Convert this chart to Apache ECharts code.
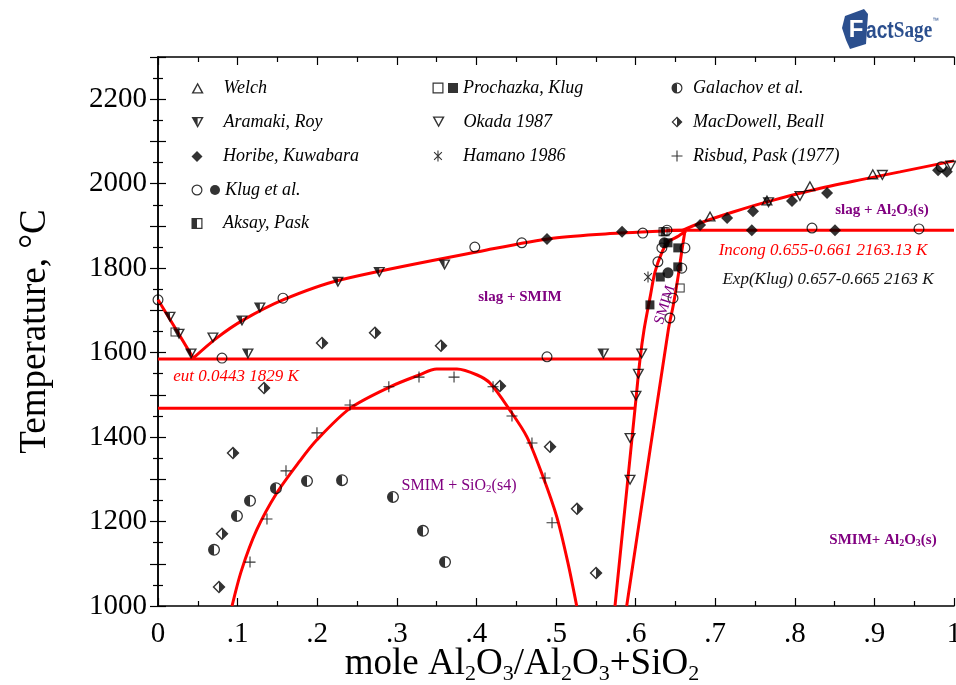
<!DOCTYPE html>
<html><head><meta charset="utf-8">
<script src="https://cdn.jsdelivr.net/npm/echarts@6/dist/echarts.min.js"></script>
<style>html,body{margin:0;padding:0;background:#fff}#c{width:956px;height:685px}</style>
</head><body><div id="c"></div>
<script>
// ---------- tick labels ----------
const xTickLabels = ['0', '.1', '.2', '.3', '.4', '.5', '.6', '.7', '.8', '.9', '1'];
const yTickLabels = ['1000', '1200', '1400', '1600', '1800', '2000', '2200'];

// ---------- calculated phase boundaries [x, T(°C)] ----------
const liqSiO2 = [[0, 1725], [0.0214, 1659], [0.0443, 1587]];
const liqSMIM = [[0.0443, 1587], [0.074, 1635], [0.1068, 1677], [0.157, 1725], [0.2286, 1772], [0.413, 1843], [0.496, 1871], [0.58, 1883], [0.634, 1888], [0.66, 1890]];
const eutLine = [[0, 1585], [0.6055, 1585]];
const lowLine = [[0, 1468], [0.5992, 1468]];
const dome = [[0.093, 1000], [0.105, 1085], [0.124, 1180], [0.149, 1267], [0.178, 1343], [0.1994, 1393], [0.2412, 1468], [0.2915, 1519], [0.328, 1547], [0.35, 1561], [0.3756, 1561], [0.401, 1547], [0.417, 1528], [0.442, 1464], [0.4636, 1400], [0.4837, 1306], [0.501, 1211], [0.515, 1102], [0.526, 1000]];
const smimLeft = [[0.5741, 1000], [0.5992, 1466], [0.6055, 1583], [0.6106, 1654], [0.618, 1729], [0.6244, 1791], [0.6332, 1838], [0.6407, 1862], [0.652, 1874], [0.6633, 1888]];
const smimRight = [[0.5888, 1000], [0.6411, 1654], [0.6474, 1713], [0.6537, 1784], [0.6579, 1839], [0.662, 1888]];
const incongLine = [[0.64, 1890], [1, 1890]];
const liqAl2O3 = [[0.6595, 1890], [0.681, 1907], [0.7224, 1933], [0.765, 1957], [0.823, 1985], [0.882, 2009], [0.932, 2028], [1, 2054]];

// ---------- experimental points [x, T(°C)] ----------
const welch = [[0.6935, 1923], [0.765, 1961], [0.819, 1995], [0.898, 2023]];
const prochazkaOpen = [[0.0214, 1649], [0.656, 1753], [0.6345, 1886]];
const prochazkaFilled = [[0.618, 1713], [0.653, 1803], [0.6407, 1860], [0.653, 1848], [0.631, 1779]];
const galachov = [[0.0704, 1133], [0.0992, 1213], [0.1156, 1249], [0.1482, 1279], [0.1872, 1296], [0.2312, 1298], [0.2952, 1258], [0.3329, 1178], [0.3606, 1104]];
const aramaki = [[0.0151, 1684], [0.0264, 1644], [0.0415, 1597], [0.1055, 1675], [0.128, 1706], [0.113, 1597], [0.226, 1767], [0.278, 1790], [0.36, 1808], [0.5595, 1597], [0.767, 1955]];
const okada = [[0.069, 1635], [0.6076, 1597], [0.6034, 1549], [0.6005, 1497], [0.593, 1397], [0.593, 1298], [0.8065, 1970], [0.91, 2020], [0.996, 2042]];
const macdowell = [[0.0766, 1045], [0.0804, 1171], [0.0942, 1362], [0.1332, 1516], [0.206, 1623], [0.2726, 1647], [0.3555, 1616], [0.4296, 1521], [0.4925, 1377], [0.5264, 1230], [0.5503, 1078]];
const horibe = [[0.4887, 1869], [0.583, 1886], [0.681, 1902], [0.715, 1919], [0.7475, 1935], [0.7965, 1959], [0.8405, 1978], [0.746, 1890], [0.8505, 1890], [0.98, 2032], [0.991, 2028]];
const hamano = [[0.6156, 1779]];
const risbud = [[0.1156, 1104], [0.1369, 1206], [0.1608, 1320], [0.1997, 1410], [0.2412, 1476], [0.29, 1519], [0.3279, 1542], [0.3719, 1542], [0.4209, 1519], [0.4447, 1450], [0.4698, 1386], [0.4862, 1303], [0.495, 1197]];
const klugOpen = [[0, 1725], [0.0804, 1587], [0.157, 1729], [0.398, 1850], [0.457, 1860], [0.4887, 1590], [0.609, 1883], [0.6395, 1890], [0.8216, 1895], [0.956, 1893], [0.984, 2040], [0.633, 1848], [0.662, 1848], [0.628, 1815], [0.658, 1800], [0.647, 1729], [0.643, 1682]];
const klugFilled = [[0.6407, 1789], [0.636, 1860]];
const aksay = [[0.637, 1886]];

// ---------- symbols (fill-rule nonzero: inner contours reversed) ----------
const RING_CIRCLE = 'M10 0A10 10 0 1 1 10 20A10 10 0 1 1 10 0Z M10 2.2A7.8 7.8 0 1 0 10 17.8A7.8 7.8 0 1 0 10 2.2Z';
const RING_TRI_DOWN = 'M0 0L20 0L10 18Z M4 2.2L10 13.4L16 2.2Z';
const RING_SQ = 'M0 0H20V20H0Z M2.2 2.2V17.8H17.8V2.2Z';
const SYM = {
  triUp: 'path://M10 0L20 18L0 18Z M10 4.6L4 15.8L16 15.8Z',
  triDown: 'path://' + RING_TRI_DOWN,
  triDownHalf: 'path://' + RING_TRI_DOWN + ' M0 0L10 0L10 18Z',
  circ: 'path://' + RING_CIRCLE,
  circHalf: 'path://' + RING_CIRCLE + ' M10 20A10 10 0 0 1 10 0Z',
  circFill: 'path://M10 0A10 10 0 1 1 10 20A10 10 0 1 1 10 0Z',
  diamFill: 'path://M10 0L20 10L10 20L0 10Z',
  diamHalf: 'path://M10 0L20 10L10 20L0 10Z M10 3.1L3.1 10L10 16.9L16.9 10Z M10 0L20 10L10 20Z',
  sq: 'path://' + RING_SQ,
  sqFill: 'path://M0 0H20V20H0Z',
  sqHalf: 'path://' + RING_SQ + ' M0 0H10V20H0Z',
  plus: 'path://M9 0H11V20H9Z M0 9H20V11H0Z',
  star: (function () {
    let p = 'path://';
    [90, 45, 135].forEach(function (a) {
      const r = 10, w = 1, t = a * Math.PI / 180;
      const dx = Math.cos(t), dy = Math.sin(t), nx = -dy, ny = dx;
      const pts = [[10 + r * dx + w * nx, 10 + r * dy + w * ny], [10 + r * dx - w * nx, 10 + r * dy - w * ny],
                   [10 - r * dx - w * nx, 10 - r * dy - w * ny], [10 - r * dx + w * nx, 10 - r * dy + w * ny]];
      p += 'M' + pts.map(q => q[0].toFixed(2) + ' ' + q[1].toFixed(2)).join('L') + 'Z ';
    });
    return p;
  })()
};

function scatter(name, data, symbol, size) {
  return { type: 'scatter', name: name, data: data, symbol: symbol, symbolSize: size, symbolKeepAspect: true,
    itemStyle: { color: '#000' }, z: 5, silent: true };
}
function boundary(data, smooth) {
  return { type: 'line', data: data, showSymbol: false, symbol: 'none', smooth: smooth ? 0.3 : false,
    lineStyle: { color: '#ff0000', width: 3 }, z: 3, silent: true };
}

const series = [
  boundary(liqSiO2, false), boundary(liqSMIM, true), boundary(eutLine, false), boundary(lowLine, false),
  boundary(dome, true), boundary(smimLeft, true), boundary(smimRight, true), boundary(incongLine, false),
  boundary(liqAl2O3, true),
  scatter('Welch', welch, SYM.triUp, 12),
  scatter('Prochazka, Klug (open)', prochazkaOpen, SYM.sq, 9),
  scatter('Prochazka, Klug', prochazkaFilled, SYM.sqFill, 9),
  scatter('Galachov et al.', galachov, SYM.circHalf, 12),
  scatter('Aramaki, Roy', aramaki, SYM.triDownHalf, 12),
  scatter('Okada 1987', okada, SYM.triDown, 12),
  scatter('MacDowell, Beall', macdowell, SYM.diamHalf, 13),
  scatter('Horibe, Kuwabara', horibe, SYM.diamFill, 12),
  scatter('Hamano 1986', hamano, SYM.star, 11),
  scatter('Risbud, Pask (1977)', risbud, SYM.plus, 11),
  scatter('Klug et al. (open)', klugOpen, SYM.circ, 11),
  scatter('Klug et al.', klugFilled, SYM.circFill, 11),
  scatter('Aksay, Pask', aksay, SYM.sqHalf, 9)
];

// ---------- legend (one small legend per icon) ----------
const legTextStyle = { fontFamily: 'Liberation Serif', fontStyle: 'italic', fontSize: 18, color: '#000', lineHeight: 18 };
function leg(name, iconCx, rowY, textX, iconW) {
  const ih = 11;
  let iw;
  if (textX == null) { iw = 11; }
  else { iw = Math.max(10, 2 * (textX - 5 - iconCx)); }
  const w = iconW || Math.min(iw, ih);
  return { data: [name], left: iconCx - w / 2, top: rowY - 9, orient: 'horizontal', itemWidth: iw, itemHeight: ih,
    padding: 0, selectedMode: false, textStyle: legTextStyle,
    formatter: textX == null ? function () { return ' '; } : function (n) { return n; } };
}
const legends = [
  leg('Welch', 197, 88, 223),
  leg('Aramaki, Roy', 197, 122.5, 223),
  leg('Horibe, Kuwabara', 197, 156.5, 223),
  leg('Klug et al. (open)', 197, 190, null),
  leg('Klug et al.', 215, 190, 221),
  leg('Aksay, Pask', 197, 223.5, 223),
  leg('Prochazka, Klug (open)', 438, 88, null),
  leg('Prochazka, Klug', 453, 88, 463),
  leg('Okada 1987', 438, 122, 463),
  leg('Hamano 1986', 438, 156, 463, 8.6),
  leg('Galachov et al.', 677, 88, 693),
  leg('MacDowell, Beall', 677, 122, 693),
  leg('Risbud, Pask (1977)', 677, 156, 693)
];

// ---------- annotations ----------
const PURPLE = '#800080';
const serif = 'Liberation Serif';
const LOGO = '#2b4f8e';
function txt(x, y, text, rich, extra) {
  return Object.assign({ type: 'text', x: x, y: y, silent: true, z: 10,
    style: { text: text, rich: rich, align: 'center', verticalAlign: 'middle' } }, extra || {});
}
const boldRich = {
  b: { fontFamily: serif, fontWeight: 'bold', fontSize: 15, fill: PURPLE, lineHeight: 16 },
  s: { fontFamily: serif, fontWeight: 'bold', fontSize: 10, fill: PURPLE, lineHeight: 5, verticalAlign: 'bottom' }
};
const graphics = [
  txt(520, 297, '{b|slag + SMIM}', boldRich),
  txt(882, 210, '{b|slag + Al}{s|2}{b|O}{s|3}{b|(s)}', boldRich),
  txt(883, 540, '{b|SMIM+ Al}{s|2}{b|O}{s|3}{b|(s)}', boldRich),
  txt(459, 486, '{n|SMIM + SiO}{s|2}{n|(s4)}', {
    n: { fontFamily: serif, fontSize: 16, fill: PURPLE, lineHeight: 17 },
    s: { fontFamily: serif, fontSize: 11, fill: PURPLE, lineHeight: 5, verticalAlign: 'bottom' } }),
  txt(823, 251, '{r|Incong 0.655-0.661 2163.13 K}', { r: { fontFamily: serif, fontStyle: 'italic', fontSize: 17, fill: '#ff0000' } }),
  txt(828, 280, '{k|Exp(Klug) 0.657-0.665 2163 K}', { k: { fontFamily: serif, fontStyle: 'italic', fontSize: 17, fill: '#111' } }),
  txt(236, 377, '{r|eut 0.0443 1829 K}', { r: { fontFamily: serif, fontStyle: 'italic', fontSize: 17, fill: '#ff0000' } }),
  txt(665, 305, '{m|SMIM}', { m: { fontFamily: serif, fontSize: 15, fill: PURPLE } }, { rotation: 72 * Math.PI / 180 }),
  // FactSage logo
  { type: 'polygon', silent: true, z: 10, shape: { points: [[845, 16], [864, 9], [868, 14], [866, 44], [850, 49], [846, 40], [842, 28]] }, style: { fill: LOGO } },
  { type: 'text', silent: true, z: 11, x: 856, y: 30, style: { text: 'F', fontFamily: 'Liberation Sans', fontWeight: 'bold', fontSize: 24, fill: '#fff', align: 'center', verticalAlign: 'middle' } },
  { type: 'text', silent: true, z: 11, x: 866, y: 31, scaleX: 0.8, style: { text: '{a|act}{s|Sage}{t|™}', align: 'left', verticalAlign: 'middle',
      rich: { a: { fontFamily: 'Liberation Sans', fontWeight: 'bold', fontSize: 24, fill: LOGO, lineHeight: 28 },
              s: { fontFamily: 'Liberation Sans Narrow', fontWeight: 'bold', fontSize: 24, fill: LOGO, lineHeight: 28 },
              t: { fontFamily: 'Liberation Sans', fontSize: 8, fill: LOGO, lineHeight: 28, verticalAlign: 'top' } } } }
];

const axisCommon = {
  axisLine: { lineStyle: { color: '#000', width: 1.5 } },
  axisTick: { inside: true, length: 8, lineStyle: { color: '#000', width: 1.2 } },
  minorTick: { show: true, splitNumber: 2, length: 5, lineStyle: { color: '#000', width: 1.2 } },
  splitLine: { show: false }, minorSplitLine: { show: false }
};
const labelFont = { fontFamily: serif, fontSize: 29, color: '#000' };

const option = {
  animation: false,
  backgroundColor: '#fff',
  grid: { left: 158, right: 2, top: 57, bottom: 79, containLabel: false, outerBoundsMode: 'none' },
  legend: legends,
  xAxis: [
    Object.assign({ type: 'value', min: 0, max: 1, interval: 0.1, position: 'bottom',
      axisLabel: Object.assign({ margin: 14, formatter: function (v) { return xTickLabels[Math.round(v * 10)]; } }, labelFont),
      name: 'mole Al{s|2}O{s|3}/Al{s|2}O{s|3}+SiO{s|2}', nameLocation: 'middle', nameGap: 37, nameMoveOverlap: false,
      nameTextStyle: { fontFamily: serif, fontSize: 37, color: '#000', lineHeight: 42, padding: [0, 68, 0, 0],
        rich: { s: { fontFamily: serif, fontSize: 22, color: '#000', lineHeight: 8, verticalAlign: 'bottom' } } }
    }, axisCommon),
    Object.assign({ type: 'value', min: 0, max: 1, interval: 0.1, position: 'top', axisLabel: { show: false } }, axisCommon)
  ],
  yAxis: [
    Object.assign({ type: 'value', min: 1000, max: 2300, interval: 100, position: 'left',
      axisLabel: Object.assign({ margin: 11, formatter: function (v) { const i = yTickLabels.indexOf(String(v)); return i >= 0 ? yTickLabels[i] : ''; } }, labelFont),
      name: 'Temperature, °C', nameLocation: 'middle', nameGap: 104, nameMoveOverlap: false,
      nameTextStyle: { fontFamily: serif, fontSize: 37, color: '#000' }
    }, axisCommon),
    Object.assign({ type: 'value', min: 1000, max: 2300, interval: 100, position: 'right', axisLabel: { show: false } }, axisCommon)
  ],
  graphic: graphics,
  series: series
};

const chart = echarts.init(document.getElementById('c'), null, { renderer: 'canvas' });
chart.setOption(option);
</script>
</body></html>
